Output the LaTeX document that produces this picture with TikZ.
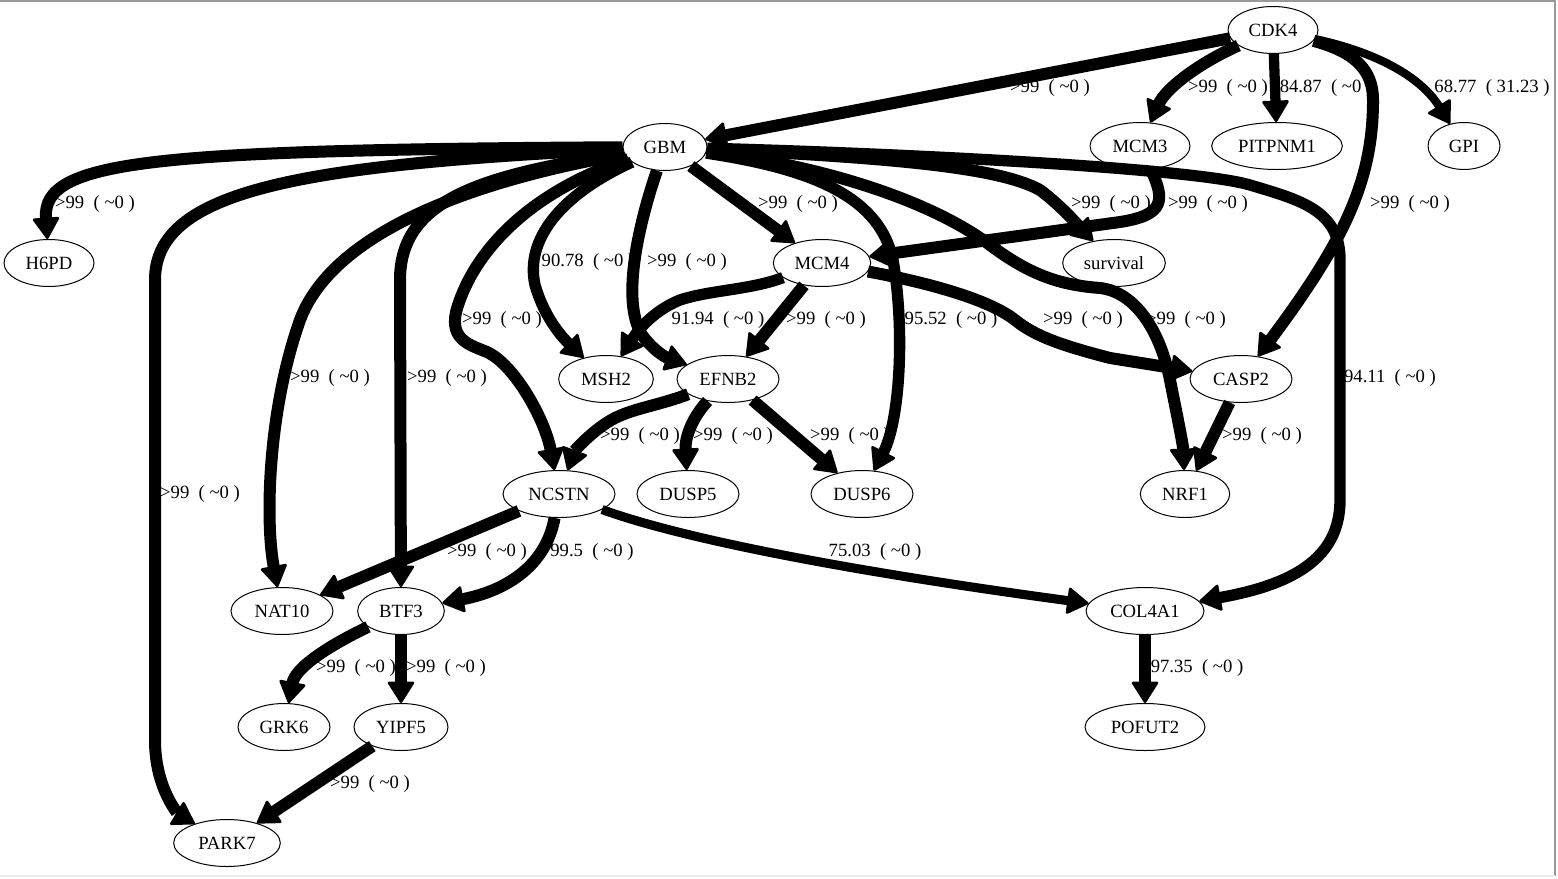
\documentclass[tikz,border=0pt]{standalone}
\usepackage{fontspec}
\setmainfont{Liberation Serif}
\usetikzlibrary{shapes.geometric,arrows.meta}
\newcommand\mylbl[1]{#1\ \ ( \textasciitilde0 )}
\begin{document}
\begin{tikzpicture}[x=0.75pt,y=-0.75pt,
  nd/.style={ellipse, draw, line width=0.75pt, fill=white, inner sep=0pt, minimum height=35.25pt, font=\fontsize{14pt}{16pt}\selectfont},
  lbl/.style={inner sep=0pt, font=\fontsize{14pt}{16pt}\selectfont},
  e/.style={line width=9pt, -{Triangle[length=17pt,width=21pt,line width=2pt,round]}},
  e1/.style={e, line width=8.5pt},
  e2/.style={e, line width=7.7pt},
  e3/.style={e, line width=6.8pt},
  e4/.style={e, line width=6.2pt},
  frame/.style={line width=1pt}]
\useasboundingbox (0,0) rectangle (1558,878);
\fill[white] (0,0) rectangle (1558,878);
\draw[frame, gray!80] (0,1) -- (1555,1) -- (1555,876);
\draw[frame, gray!15] (0,876) -- (1555,876);

% nodes
\node[nd, minimum width=67.5pt] (CDK4) at (1273,30) {CDK4};
\node[nd, minimum width=63pt] (GBM) at (665,147) {GBM};
\node[nd, minimum width=75pt] (MCM3) at (1140,146) {MCM3};
\node[nd, minimum width=98pt] (PITPNM1) at (1277,146) {PITPNM1};
\node[nd, minimum width=54pt] (GPI) at (1464,146) {GPI};
\node[nd, minimum width=67.5pt] (H6PD) at (49,263) {H6PD};
\node[nd, minimum width=73pt] (MCM4) at (822,263) {MCM4};
\node[nd, minimum width=77pt] (survival) at (1114,263) {survival};
\node[nd, minimum width=71pt] (MSH2) at (606,379) {MSH2};
\node[nd, minimum width=76.5pt] (EFNB2) at (728,379) {EFNB2};
\node[nd, minimum width=76.5pt] (CASP2) at (1241,379) {CASP2};
\node[nd, minimum width=84pt] (NCSTN) at (559,494) {NCSTN};
\node[nd, minimum width=76.5pt] (DUSP5) at (688,494) {DUSP5};
\node[nd, minimum width=76.5pt] (DUSP6) at (862,494) {DUSP6};
\node[nd, minimum width=67pt] (NRF1) at (1185,494) {NRF1};
\node[nd, minimum width=76.5pt] (NAT10) at (282,611) {NAT10};
\node[nd, minimum width=65pt] (BTF3) at (401,611) {BTF3};
\node[nd, minimum width=88.5pt] (COL4A1) at (1145,611) {COL4A1};
\node[nd, minimum width=69pt] (GRK6) at (284,727) {GRK6};
\node[nd, minimum width=70.5pt] (YIPF5) at (401,727) {YIPF5};
\node[nd, minimum width=90pt] (POFUT2) at (1145,727) {POFUT2};
\node[nd, minimum width=80pt] (PARK7) at (227,843) {PARK7};

% edge labels
\node[lbl] (l1) at (1050,88) {\mylbl{>99}};
\node[lbl] (l2) at (1228,88) {\mylbl{>99}};
\node[lbl] (l3) at (1326,88) {\mylbl{84.87}};
\node[lbl] (l4) at (1492,88) {68.77\ \ ( 31.23 )};
\node[lbl] (l5) at (95,204) {\mylbl{>99}};
\node[lbl] (l6) at (798,204) {\mylbl{>99}};
\node[lbl] (l7) at (1111,204) {\mylbl{>99}};
\node[lbl] (l8) at (1208,204) {\mylbl{>99}};
\node[lbl] (l9) at (1410,204) {\mylbl{>99}};
\node[lbl] (l10) at (588,262) {\mylbl{90.78}};
\node[lbl] (l11) at (687,262) {\mylbl{>99}};
\node[lbl] (l12) at (502,320) {\mylbl{>99}};
\node[lbl] (l13) at (718,320) {\mylbl{91.94}};
\node[lbl] (l14) at (826,320) {\mylbl{>99}};
\node[lbl] (l15) at (951,320) {\mylbl{95.52}};
\node[lbl] (l16) at (1083,320) {\mylbl{>99}};
\node[lbl] (l17) at (1186,320) {\mylbl{>99}};
\node[lbl] (l18) at (330,378) {\mylbl{>99}};
\node[lbl] (l19) at (447,378) {\mylbl{>99}};
\node[lbl] (l20) at (1390,378) {\mylbl{94.11}};
\node[lbl] (l21) at (640,436) {\mylbl{>99}};
\node[lbl] (l22) at (733,436) {\mylbl{>99}};
\node[lbl] (l23) at (850,436) {\mylbl{>99}};
\node[lbl] (l24) at (1262,436) {\mylbl{>99}};
\node[lbl] (l25) at (200,494) {\mylbl{>99}};
\node[lbl] (l26) at (487,552) {\mylbl{>99}};
\node[lbl] (l27) at (592,552) {\mylbl{99.5}};
\node[lbl] (l28) at (875,552) {\mylbl{75.03}};
\node[lbl] (l29) at (356,668) {\mylbl{>99}};
\node[lbl] (l30) at (446,668) {\mylbl{>99}};
\node[lbl] (l31) at (1197,668) {\mylbl{97.35}};
\node[lbl] (l32) at (370,784) {\mylbl{>99}};

% edges
\draw[e] (CDK4) -- (GBM);
\draw[e] (CDK4) .. controls (1195,65) and (1165,90) .. (MCM3);
\draw[e2] (CDK4) -- (PITPNM1);
\draw[e4] (CDK4) .. controls (1375,52) and (1420,76) .. (GPI);
\draw[e] (CDK4) .. controls (1355,52) and (1373,70) .. (1373,100) .. controls (1373,180) and (1345,240) .. (CASP2);

\draw[e] (GBM) .. controls (150,150) and (42,160) .. (H6PD);
\draw[e] (GBM) .. controls (300,165) and (155,190) .. (155,280) -- (155,740) .. controls (155,790) and (180,815) .. (PARK7);
\draw[e] (GBM) .. controls (450,185) and (330,240) .. (300,320) .. controls (268,410) and (265,520) .. (NAT10);
\draw[e] (GBM) .. controls (480,175) and (400,200) .. (400,280) -- (BTF3);
\draw[e] (GBM) .. controls (520,195) and (470,260) .. (456,312) .. controls (450,340) and (470,345) .. (487,352) .. controls (515,365) and (545,420) .. (NCSTN);
\draw[e1] (GBM) .. controls (560,195) and (525,240) .. (535,285) .. controls (545,320) and (565,340) .. (MSH2);
\draw[e] (GBM) .. controls (640,220) and (620,300) .. (642,335) .. controls (653,350) and (665,357) .. (EFNB2);
\draw[e] (GBM) -- (MCM4);
\draw[e1] (GBM) .. controls (820,170) and (880,200) .. (893,260) .. controls (905,330) and (900,420) .. (DUSP6);
\draw[e] (GBM) .. controls (820,165) and (930,200) .. (990,245) .. controls (1030,275) and (1060,285) .. (1100,288) .. controls (1135,292) and (1160,330) .. (1170,380) .. controls (1178,420) and (1183,445) .. (NRF1);
\draw[e] (GBM) .. controls (900,158) and (1000,168) .. (1040,190) .. controls (1060,205) and (1075,222) .. (survival);
\draw[e1] (GBM) .. controls (950,155) and (1200,170) .. (1250,185) .. controls (1300,200) and (1340,210) .. (1340,260) -- (1340,500) .. controls (1340,560) and (1290,585) .. (COL4A1);

\draw[e] (MCM3) .. controls (1165,200) and (1165,215) .. (1120,222) -- (MCM4);
\draw[e1] (MCM4) .. controls (750,290) and (710,290) .. (680,300) .. controls (650,312) and (635,335) .. (MSH2);
\draw[e] (MCM4) -- (EFNB2);
\draw[e] (MCM4) .. controls (930,283) and (990,300) .. (1015,320) .. controls (1035,336) and (1060,345) .. (1110,358) -- (CASP2);

\draw[e] (EFNB2) .. controls (660,405) and (635,408) .. (615,418) .. controls (595,428) and (575,450) .. (NCSTN);
\draw[e] (EFNB2) .. controls (690,420) and (685,440) .. (DUSP5);
\draw[e] (EFNB2) -- (DUSP6);
\draw[e] (CASP2) -- (NRF1);

\draw[e] (NCSTN) -- (NAT10);
\draw[e] (NCSTN) .. controls (545,570) and (500,592) .. (BTF3);
\draw[e3] (NCSTN) .. controls (700,545) and (900,578) .. (COL4A1);
\draw[e] (BTF3) .. controls (320,650) and (295,670) .. (GRK6);
\draw[e] (BTF3) -- (YIPF5);
\draw[e] (YIPF5) -- (PARK7);
\draw[e1] (COL4A1) -- (POFUT2);
\end{tikzpicture}
\end{document}
